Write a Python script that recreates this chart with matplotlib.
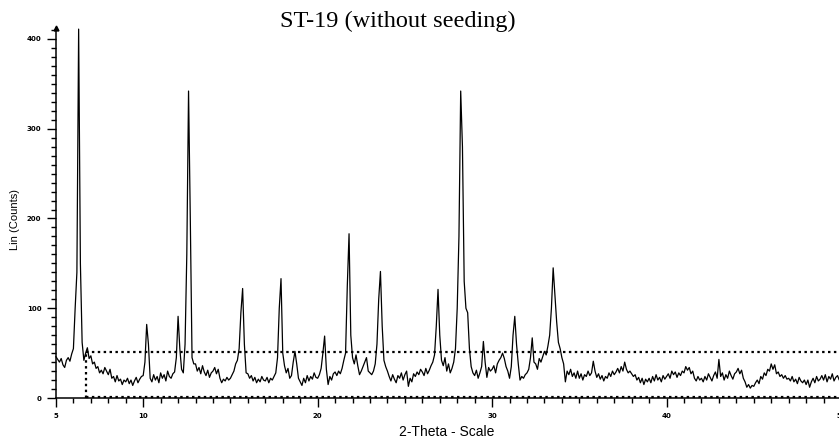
import numpy as np
import matplotlib.pyplot as plt

# XRD pattern, one row per degree (step 0.1, 5.0 .. 50.0)
counts_rows = [
    [46, 43, 40, 44, 37, 34, 42, 45, 41, 49],        # 5
    [55, 100, 140, 411, 150, 62, 42, 50, 56, 44],    # 6
    [47, 38, 40, 33, 35, 28, 31, 27, 34, 30],        # 7
    [26, 32, 22, 24, 18, 25, 19, 21, 15, 20],        # 8
    [18, 22, 16, 20, 14, 19, 23, 17, 21, 24],        # 9
    [25, 40, 82, 60, 22, 18, 26, 20, 24, 17],        # 10
    [28, 22, 26, 19, 30, 24, 22, 27, 29, 45],        # 11
    [91, 55, 32, 28, 60, 160, 342, 200, 45, 38],     # 12
    [38, 30, 34, 27, 36, 29, 25, 31, 23, 28],        # 13
    [30, 34, 27, 32, 22, 17, 21, 19, 23, 20],        # 14
    [22, 26, 30, 38, 42, 55, 95, 122, 60, 28],       # 15
    [27, 22, 25, 19, 23, 17, 21, 18, 24, 20],        # 16
    [19, 23, 17, 22, 20, 24, 28, 45, 100, 133],      # 17
    [50, 36, 28, 33, 22, 25, 40, 52, 38, 22],        # 18
    [18, 14, 22, 17, 25, 19, 24, 21, 28, 23],        # 19
    [22, 26, 33, 50, 69, 32, 15, 24, 20, 27],        # 20
    [29, 25, 30, 27, 33, 42, 50, 125, 183, 70],      # 21
    [45, 38, 48, 36, 26, 30, 35, 40, 45, 30],        # 22
    [28, 26, 30, 38, 60, 110, 141, 80, 42, 35],      # 23
    [30, 24, 19, 26, 21, 17, 25, 22, 28, 20],        # 24
    [26, 30, 13, 22, 18, 27, 24, 29, 26, 32],        # 25
    [29, 25, 33, 27, 31, 36, 40, 48, 80, 121],       # 26
    [70, 42, 36, 45, 30, 38, 28, 33, 40, 55],        # 27
    [100, 180, 342, 280, 130, 100, 95, 55, 35, 28],  # 28
    [25, 31, 22, 28, 35, 63, 40, 23, 34, 30],        # 29
    [32, 36, 28, 38, 42, 45, 50, 44, 35, 30],        # 30
    [22, 35, 70, 91, 60, 38, 20, 24, 22, 26],        # 31
    [28, 32, 45, 67, 40, 38, 32, 44, 40, 46],        # 32
    [52, 48, 58, 70, 100, 145, 115, 85, 62, 55],     # 33
    [45, 38, 18, 30, 26, 32, 24, 28, 22, 30],        # 34
    [22, 27, 20, 26, 24, 30, 25, 28, 41, 30],        # 35
    [23, 27, 21, 25, 19, 24, 22, 28, 24, 30],        # 36
    [26, 29, 33, 28, 35, 30, 40, 32, 28, 30],        # 37
    [27, 24, 26, 20, 23, 17, 22, 15, 21, 18],        # 38
    [22, 17, 24, 19, 26, 20, 23, 18, 25, 21],        # 39
    [24, 27, 22, 30, 26, 29, 23, 28, 25, 30],        # 40
    [28, 35, 31, 34, 27, 30, 22, 19, 24, 20],        # 41
    [22, 18, 24, 20, 27, 23, 19, 25, 29, 22],        # 42
    [43, 24, 28, 20, 26, 22, 30, 25, 21, 27],        # 43
    [29, 33, 27, 31, 22, 18, 12, 15, 11, 14],        # 44
    [13, 17, 20, 16, 24, 21, 28, 25, 32, 30],        # 45
    [38, 32, 37, 27, 29, 24, 26, 22, 25, 21],        # 46
    [22, 19, 24, 18, 21, 16, 23, 19, 17, 20],        # 47
    [15, 20, 12, 18, 22, 17, 24, 19, 21, 25],        # 48
    [20, 26, 18, 24, 21, 27, 19, 23, 25, 20],        # 49
    [22],                                            # 50
]
counts = np.concatenate([np.array(r, dtype=float) for r in counts_rows])
two_theta = 5.0 + 0.1 * np.arange(len(counts))

# dotted guide lines seen in the picture
level_line = 51
start_line = 6.75

x_ticks = [5, 10, 20, 30, 40, 50]
y_ticks = [0, 100, 200, 300, 400]

fig = plt.figure(figsize=(8.39, 4.38), dpi=100)
ax = fig.add_axes([0.0667, 0.0913, 0.9357, 0.8443])

ax.plot(two_theta, counts, color='black', lw=0.9, clip_on=False)

dots = dict(color='black', lw=1.6, linestyle=(0, (1.1, 1.55)),
            dash_capstyle='butt', clip_on=False)
ax.plot([start_line, 50], [level_line, level_line], **dots)
ax.plot([start_line, start_line], [0, level_line], **dots)
ax.plot([start_line, 50], [0.8, 0.8], **dots)

ax.set_xlim(5, 50)
ax.set_ylim(0, 412)
for s in ['top', 'right']:
    ax.spines[s].set_visible(False)
ax.spines['left'].set_linewidth(1.1)
ax.spines['bottom'].set_linewidth(1.1)

# little arrow on top of the y axis
ax.plot([5], [412], marker='^', color='black', markersize=3.5, clip_on=False)

ax.set_xticks(x_ticks)
ax.set_xticks(np.arange(5, 51, 1), minor=True)
ax.set_yticks(y_ticks)
ax.set_yticks(np.arange(0, 411, 10), minor=True)
ax.tick_params(axis='both', which='major', direction='out', length=6.5,
               width=1, labelsize=5, pad=4)
ax.tick_params(axis='both', which='minor', direction='out', length=3.5, width=1)
for lab in ax.get_xticklabels() + ax.get_yticklabels():
    lab.set_fontweight('bold')

fig.text(0.018, 0.50, 'Lin (Counts)', fontsize=8, family='Liberation Sans',
         rotation=90, ha='center', va='center')
fig.text(0.532, 0.0137, '2-Theta - Scale', fontsize=10, family='Liberation Sans',
         ha='center', va='center')
fig.text(0.474, 0.95, 'ST-19 (without seeding)', fontsize=17.5,
         family='Liberation Serif', ha='center', va='center')

fig.savefig('out.png', dpi=100)
